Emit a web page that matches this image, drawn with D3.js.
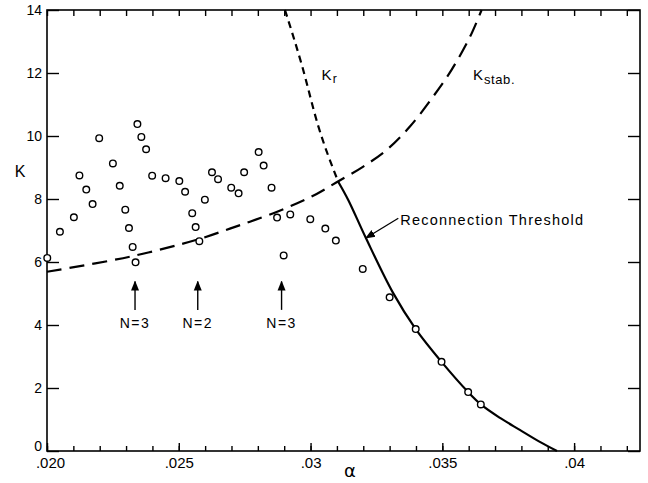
<!DOCTYPE html>
<html>
<head>
<meta charset="utf-8">
<script src="https://cdn.jsdelivr.net/npm/d3@7"></script>
<style>
  body { margin: 0; background: #fff; }
  svg { font-family: "Liberation Sans", Arial, sans-serif; }
</style>
</head>
<body>
<svg id="chart" width="648" height="483"></svg>
<script>
// measured points (alpha, K)
const alpha = [0.02001, 0.02049, 0.02102, 0.02123, 0.02149, 0.02173, 0.02198, 0.02250, 0.02276, 0.02297,
  0.02311, 0.02325, 0.02336, 0.02343, 0.02358, 0.02376, 0.02399, 0.02450, 0.02502, 0.02524,
  0.02551, 0.02564, 0.02578, 0.02599, 0.02626, 0.02649, 0.02699, 0.02727, 0.02748, 0.02803,
  0.02822, 0.02852, 0.02873, 0.02898, 0.02923, 0.02999, 0.03056, 0.03096, 0.03198, 0.03300,
  0.03399, 0.03497, 0.03598, 0.03646];
const kPts = [6.13, 6.96, 7.42, 8.75, 8.30, 7.84, 9.93, 9.13, 8.42, 7.66,
  7.08, 6.48, 5.99, 10.38, 9.97, 9.58, 8.74, 8.66, 8.57, 8.23,
  7.55, 7.11, 6.66, 7.98, 8.85, 8.63, 8.36, 8.18, 8.85, 9.49,
  9.06, 8.36, 7.41, 6.21, 7.51, 7.36, 7.06, 6.68, 5.78, 4.88,
  3.87, 2.83, 1.87, 1.48];

// K stab. (long dashes)
const kStabAlpha = [0.02000, 0.02315, 0.02578, 0.02694, 0.02770, 0.02859, 0.02947, 0.03023,
  0.03099, 0.03200, 0.03289, 0.03377, 0.03465, 0.03535, 0.03605, 0.03649];
const kStabK = [5.69, 6.17, 6.73, 7.06, 7.28, 7.55, 7.86, 8.16, 8.53, 9.03, 9.56, 10.30, 11.25, 12.10, 13.15, 14.0];

// K r (short dashes)
const krAlpha = [0.02903, 0.02967, 0.03028, 0.03105];
const krK = [14.0, 12.25, 10.35, 8.55];

// reconnection threshold (solid)
const threshAlpha = [0.03105, 0.03143, 0.03210, 0.03313, 0.03399, 0.03497, 0.03598, 0.03646, 0.03719, 0.03794, 0.03870, 0.03935];
const threshK = [8.55, 7.97, 6.76, 5.02, 3.87, 2.83, 1.87, 1.48, 1.05, 0.67, 0.29, 0.0];

// N arrows
const arrowAlpha = [0.02334, 0.02572, 0.02890];
const arrowLabels = ["N=3", "N=2", "N=3"];

// ticks
const xMajor = [0.020, 0.025, 0.030, 0.035, 0.040];
const xTickLabels = [".020", ".025", ".03", ".035", ".04"];
const yMajor = [0, 2, 4, 6, 8, 10, 12, 14];
const yTickLabels = ["0", "2", "4", "6", "8", "10", "12", "14"];

const svg = d3.select("#chart");
const mLeft = 47, mRight = 640, mTop = 10, mBottom = 451;

const x = d3.scaleLinear().domain([0.020, 0.0425]).range([mLeft, mRight]);
const y = d3.scaleLinear().domain([0, 14]).range([mBottom, mTop]);

const xMinor = d3.range(20, 43).map(d => d / 1000);

svg.append("defs").append("marker")
  .attr("id", "head")
  .attr("viewBox", "0 0 10 10")
  .attr("refX", 9).attr("refY", 5)
  .attr("markerWidth", 10).attr("markerHeight", 10)
  .attr("markerUnits", "userSpaceOnUse")
  .attr("orient", "auto")
  .append("path")
  .attr("d", "M0,1 L10,5 L0,9 Z")
  .attr("fill", "#000");

// bottom axis: minor + major
svg.append("g").attr("transform", `translate(0,${mBottom})`)
  .call(d3.axisBottom(x).tickValues(xMinor).tickSize(-5).tickFormat(""));
const bMajor = svg.append("g").attr("transform", `translate(0,${mBottom})`)
  .call(d3.axisBottom(x).tickValues(xMajor).tickSize(-8).tickPadding(6)
    .tickFormat((d, i) => xTickLabels[i]));
bMajor.selectAll("text").attr("font-size", 15).attr("font-family", "Liberation Sans, Arial, sans-serif");
bMajor.selectAll(".tick").filter(d => d === 0.020).select("text").attr("dx", 3);

// top axis
svg.append("g").attr("transform", `translate(0,${mTop})`)
  .call(d3.axisTop(x).tickValues(xMinor).tickSize(-6).tickFormat(""));

// left axis
const lAx = svg.append("g").attr("transform", `translate(${mLeft},0)`)
  .call(d3.axisLeft(y).tickValues(yMajor).tickSize(-12).tickPadding(5)
    .tickFormat((d, i) => yTickLabels[i]));
lAx.selectAll("text").attr("font-size", 14).attr("font-family", "Liberation Sans, Arial, sans-serif");
lAx.selectAll(".tick").filter(d => d === 0).select("text").attr("dy", "-0.05em");

// right axis
svg.append("g").attr("transform", `translate(${mRight},0)`)
  .call(d3.axisRight(y).tickValues(yMajor).tickSize(-12).tickFormat(""));

svg.selectAll(".domain").remove();
svg.selectAll(".tick line").attr("stroke", "#000").attr("stroke-width", 1.4);

svg.append("rect")
  .attr("x", mLeft).attr("y", mTop)
  .attr("width", mRight - mLeft).attr("height", mBottom - mTop)
  .attr("fill", "none").attr("stroke", "#000").attr("stroke-width", 1.6);

// curves
const line = d3.line().x(d => x(d[0])).y(d => y(d[1])).curve(d3.curveMonotoneX);
const smooth = d3.line().x(d => x(d[0])).y(d => y(d[1])).curve(d3.curveCatmullRom.alpha(0.5));

svg.append("path")
  .datum(kStabAlpha.map((a, i) => [a, kStabK[i]]))
  .attr("d", smooth)
  .attr("fill", "none").attr("stroke", "#000").attr("stroke-width", 2.2)
  .attr("stroke-dasharray", "15,8");

svg.append("path")
  .datum(krAlpha.map((a, i) => [a, krK[i]]))
  .attr("d", line)
  .attr("fill", "none").attr("stroke", "#000").attr("stroke-width", 2.2)
  .attr("stroke-dasharray", "7,5");

svg.append("path")
  .datum(threshAlpha.map((a, i) => [a, threshK[i]]))
  .attr("d", smooth)
  .attr("fill", "none").attr("stroke", "#000").attr("stroke-width", 2.2);

// points
svg.append("g").selectAll("circle")
  .data(alpha.map((a, i) => [a, kPts[i]]))
  .enter().append("circle")
  .attr("cx", d => x(d[0]))
  .attr("cy", d => y(d[1]))
  .attr("r", 3.3)
  .attr("fill", "#fff")
  .attr("stroke", "#000")
  .attr("stroke-width", 1.4);

// N arrows
const ar = svg.append("g");
arrowAlpha.forEach((a, i) => {
  ar.append("line")
    .attr("x1", x(a)).attr("x2", x(a))
    .attr("y1", y(4.48)).attr("y2", y(5.38))
    .attr("stroke", "#000").attr("stroke-width", 1.4)
    .attr("marker-end", "url(#head)");
  ar.append("text")
    .attr("x", x(a)).attr("y", y(3.9))
    .attr("text-anchor", "middle")
    .attr("font-size", 14)
    .attr("letter-spacing", 1.5)
    .text(arrowLabels[i]);
});

// reconnection threshold label
svg.append("line")
  .attr("x1", x(0.03333)).attr("y1", y(7.39))
  .attr("x2", x(threshAlpha[2])).attr("y2", y(threshK[2]))
  .attr("stroke", "#000").attr("stroke-width", 1.3)
  .attr("marker-end", "url(#head)");
svg.append("text")
  .attr("x", x(0.03340)).attr("y", y(7.17))
  .attr("font-size", 14.5)
  .attr("textLength", 183)
  .text("Reconnection Threshold");

// curve labels
const kr = svg.append("text").attr("x", x(0.03042)).attr("y", y(11.78)).attr("font-size", 15);
kr.append("tspan").text("K");
kr.append("tspan").attr("dy", 3).attr("dx", 1).attr("font-size", 12).text("r");

const ks = svg.append("text").attr("x", x(0.03616)).attr("y", y(11.78)).attr("font-size", 15);
ks.append("tspan").text("K");
ks.append("tspan").attr("dy", 4).attr("dx", 1).attr("font-size", 13).attr("letter-spacing", 0.6).text("stab.");

// axis titles
svg.append("text").attr("x", 20).attr("y", 177).attr("text-anchor", "middle")
  .attr("font-size", 16).text("K");
svg.append("text").attr("x", 350).attr("y", 477).attr("text-anchor", "middle")
  .attr("font-size", 18).attr("font-family", "DejaVu Sans, sans-serif").text("α");
</script>
</body>
</html>
